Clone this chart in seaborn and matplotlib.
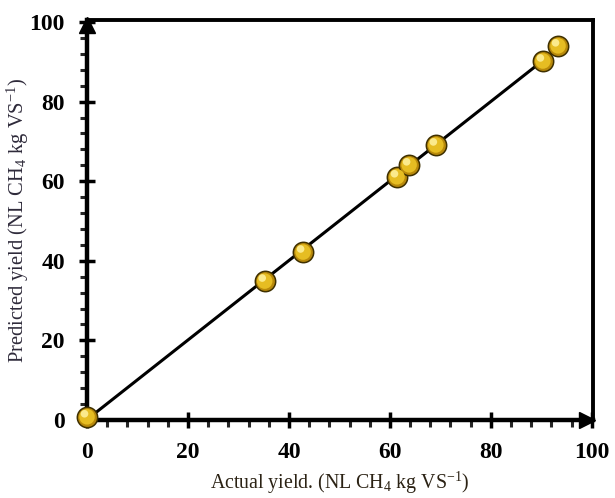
import pandas as pd
import seaborn as sns
import matplotlib
matplotlib.use("Agg")
import matplotlib.pyplot as plt
from matplotlib.ticker import MultipleLocator
from matplotlib.transforms import offset_copy

# Values
actual_yield = [0, 35.2, 42.8, 61.4, 63.8, 69.1, 90.3, 93.3]
predicted_yield = [0.8, 34.9, 42.2, 61.1, 64.1, 69.1, 90.2, 94.0]
tick_values = [0, 20, 40, 60, 80, 100]

x_label = "Actual yield. (NL CH$_4$ kg VS$^{-1}$)"
y_label = "Predicted yield (NL CH$_4$ kg VS$^{-1}$)"


def plot_actual_vs_predicted(df):
    sns.set_style("white")
    plt.rcParams["font.family"] = ["Liberation Serif", "DejaVu Serif"]
    plt.rcParams["mathtext.fontset"] = "custom"
    plt.rcParams["mathtext.rm"] = "Liberation Serif"
    plt.rcParams["mathtext.it"] = "Liberation Serif:italic"
    plt.rcParams["mathtext.bf"] = "Liberation Serif:bold"

    fig = plt.figure(figsize=(6.15, 4.98), dpi=100)
    ax = fig.add_axes([0.1415, 0.1566, 0.8225, 0.8032])

    # fitted line through the points
    sns.regplot(data=df, x="actual", y="predicted", scatter=False, ci=None,
                truncate=True, ax=ax,
                line_kws=dict(color="black", lw=2.2, zorder=3))

    # gold "spheres": base, body and a small highlight
    sns.scatterplot(data=df, x="actual", y="predicted", ax=ax, s=215,
                    color="#B8890A", edgecolor="#3f3000", linewidth=1.1,
                    zorder=4, clip_on=False)
    sns.scatterplot(data=df, x="actual", y="predicted", ax=ax, s=125,
                    color="#E6BD22", edgecolor="none", zorder=5,
                    clip_on=False)
    hl = offset_copy(ax.transData, fig=fig, x=-1.8, y=2.2, units="points")
    sns.scatterplot(data=df, x="actual", y="predicted", ax=ax, s=30,
                    color="#FBEA8C", edgecolor="none", zorder=6,
                    clip_on=False, transform=hl)

    ax.set_xlim(0, 100.2)
    ax.set_ylim(0, 100.5)
    ax.set_xticks(tick_values)
    ax.set_yticks(tick_values)
    ax.xaxis.set_minor_locator(MultipleLocator(4))
    ax.yaxis.set_minor_locator(MultipleLocator(4))
    ax.tick_params(which="major", direction="inout", length=12, width=2.5,
                   labelsize=17, pad=10, colors="black")
    ax.tick_params(which="minor", direction="out", length=5, width=2.2)
    ax.tick_params(bottom=True, left=True, which="both")
    for lab in ax.get_xticklabels() + ax.get_yticklabels():
        lab.set_fontweight("bold")

    for side in ["left", "bottom"]:
        ax.spines[side].set_linewidth(3.2)
        ax.spines[side].set_color("black")
    for side in ["top", "right"]:
        ax.spines[side].set_linewidth(2.8)
        ax.spines[side].set_color("black")

    # arrow heads at the end of both axes
    ax.plot(99.0, 0, marker=">", color="black", markersize=11, clip_on=False,
            zorder=7)
    ax.plot(0, 99.2, marker="^", color="black", markersize=11, clip_on=False,
            zorder=7)

    ax.set_xlabel(x_label, fontsize=14.3, color="#2b2214")
    ax.set_ylabel(y_label, fontsize=14.8, color="#2e2a3a")
    ax.xaxis.set_label_coords(0.5, -0.125)
    ax.yaxis.set_label_coords(-0.11, 0.5)

    fig.savefig("out.png", dpi=100)


def main():
    df = pd.DataFrame({"actual": actual_yield, "predicted": predicted_yield})
    plot_actual_vs_predicted(df)


if __name__ == "__main__":
    main()
